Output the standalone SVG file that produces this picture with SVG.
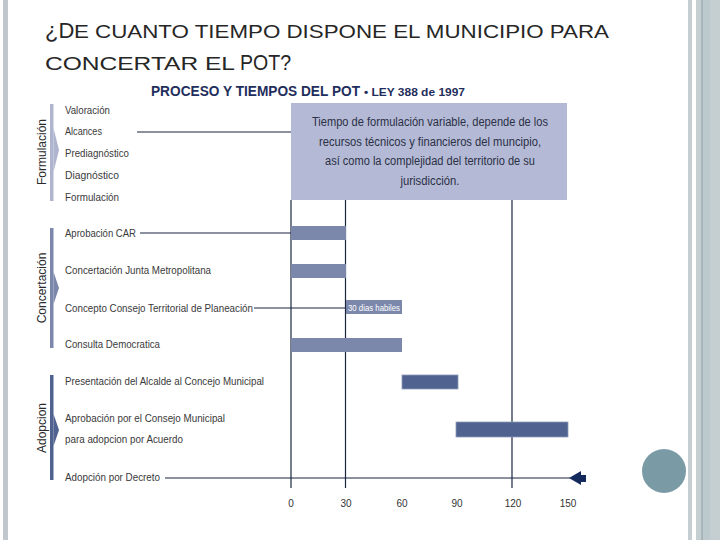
<svg xmlns="http://www.w3.org/2000/svg" width="720" height="540" viewBox="0 0 720 540">
<style>
.title{font-family:"Liberation Sans",Arial,sans-serif;fill:#262626}
.sub{font-family:"Liberation Sans Narrow","Liberation Sans",sans-serif;font-weight:bold;fill:#1f2e5c}
.lbl{font-family:"Liberation Sans Narrow","Liberation Sans",sans-serif;font-size:11px;fill:#3a3a3a}
.phase{font-family:"Liberation Sans Narrow","Liberation Sans",sans-serif;font-size:12px;fill:#2a2a2a}
.box{font-family:"Liberation Sans Narrow","Liberation Sans",sans-serif;font-size:12.5px;fill:#2b3045}
.ax{font-family:"Liberation Sans Narrow","Liberation Sans",sans-serif;font-size:10px;fill:#333;text-anchor:middle}
.grid{stroke:#1a2540;stroke-width:1.2}
.conn{stroke:#1a2540;stroke-width:1.2;fill:none}
.barC{fill:#7b87ab}
.barA{fill:#4f6290;stroke:#8f9bbb;stroke-width:0.8}
</style>
<rect width="720" height="540" fill="#ffffff"/>
<!-- frame decoration -->
<rect x="3" y="0" width="5" height="540" fill="#c0c8ce"/>
<rect x="688" y="0" width="4" height="540" fill="#c5cfd2"/>
<rect x="696" y="0" width="24" height="540" fill="#c5cfd2"/>
<rect x="703" y="0" width="7" height="540" fill="#bccacd"/>
<line x1="702" y1="0" x2="702" y2="540" stroke="#8a9aa0" stroke-width="1"/>
<circle cx="664" cy="471" r="22" fill="#7a9ba6"/>

<!-- title -->
<g id="title">
<text class="title" x="45" y="38" font-size="22">¿D</text>
<text class="title" x="74" y="38" font-size="17.5" textLength="535" lengthAdjust="spacingAndGlyphs">E CUANTO TIEMPO DISPONE EL MUNICIPIO PARA</text>
<text class="title" x="45" y="70" font-size="17.5" textLength="190" lengthAdjust="spacingAndGlyphs">CONCERTAR EL</text>
<text class="title" x="240" y="70" font-size="22" textLength="51" lengthAdjust="spacingAndGlyphs">POT?</text>
</g>
<g id="subtitle">
<text class="sub" x="151" y="96" font-size="14" textLength="209" lengthAdjust="spacingAndGlyphs">PROCESO Y TIEMPOS DEL POT</text>
<text class="sub" x="364" y="96" font-size="10.5" textLength="101" lengthAdjust="spacingAndGlyphs">• LEY 388 de 1997</text>
</g>

<!-- phases -->
<g id="phase-formulacion">
<rect x="50" y="104" width="3.5" height="97" fill="#b0b5cf"/>
<polygon points="53.5,128 59,150 53.5,172" fill="#b0b5cf"/>
<text class="phase" transform="translate(46,152) rotate(-90)" text-anchor="middle">Formulación</text>
</g>
<g id="phase-concertacion">
<rect x="50" y="228" width="3.5" height="120" fill="#7b87ab"/>
<polygon points="53.5,272 59,288 53.5,304" fill="#7b87ab"/>
<text class="phase" transform="translate(46,288) rotate(-90)" text-anchor="middle">Concertación</text>
</g>
<g id="phase-adopcion">
<rect x="50" y="375" width="3.5" height="105" fill="#4f6290"/>
<polygon points="53.5,414 59,430 53.5,446" fill="#4f6290"/>
<text class="phase" transform="translate(46,428) rotate(-90)" text-anchor="middle">Adopcion</text>
</g>

<!-- step labels -->
<g id="steps">
<text class="lbl" x="65" y="114" textLength="45" lengthAdjust="spacingAndGlyphs">Valoración</text>
<text class="lbl" x="65" y="135" textLength="37" lengthAdjust="spacingAndGlyphs">Alcances</text>
<text class="lbl" x="65" y="157" textLength="64" lengthAdjust="spacingAndGlyphs">Prediagnóstico</text>
<text class="lbl" x="65" y="179" textLength="54" lengthAdjust="spacingAndGlyphs">Diagnóstico</text>
<text class="lbl" x="65" y="201" textLength="54" lengthAdjust="spacingAndGlyphs">Formulación</text>
<text class="lbl" x="65" y="237" textLength="71" lengthAdjust="spacingAndGlyphs">Aprobación CAR</text>
<text class="lbl" x="65" y="274" textLength="146" lengthAdjust="spacingAndGlyphs">Concertación Junta Metropolitana</text>
<text class="lbl" x="65" y="312" textLength="188" lengthAdjust="spacingAndGlyphs">Concepto Consejo Territorial de Planeación</text>
<text class="lbl" x="65" y="348" textLength="95" lengthAdjust="spacingAndGlyphs">Consulta Democratica</text>
<text class="lbl" x="65" y="385" textLength="199" lengthAdjust="spacingAndGlyphs">Presentación del Alcalde al Concejo Municipal</text>
<text class="lbl" x="65" y="422" textLength="160" lengthAdjust="spacingAndGlyphs">Aprobación por el Consejo Municipal</text>
<text class="lbl" x="65" y="443" textLength="118" lengthAdjust="spacingAndGlyphs">para adopcion por Acuerdo</text>
<text class="lbl" x="65" y="481" textLength="95" lengthAdjust="spacingAndGlyphs">Adopción por Decreto</text>
</g>

<!-- info box -->
<g id="info-box">
<rect x="291" y="103" width="276" height="97" fill="#b4bad6"/>
<text class="box" x="430" y="126" text-anchor="middle" textLength="236" lengthAdjust="spacingAndGlyphs">Tiempo de formulación variable, depende de los</text>
<text class="box" x="430" y="146" text-anchor="middle" textLength="222" lengthAdjust="spacingAndGlyphs">recursos técnicos y financieros del muncipio,</text>
<text class="box" x="430" y="165" text-anchor="middle" textLength="210" lengthAdjust="spacingAndGlyphs">así como la complejidad del territorio de su</text>
<text class="box" x="430" y="185" text-anchor="middle" textLength="59" lengthAdjust="spacingAndGlyphs">jurisdicción.</text>
</g>

<!-- grid -->
<g id="grid">
<line class="grid" x1="291" y1="200" x2="291" y2="488"/>
<line class="grid" x1="345.5" y1="200" x2="345.5" y2="488"/>
<line class="grid" x1="512" y1="200" x2="512" y2="488"/>
</g>

<!-- bars -->
<g id="bars">
<rect class="barC" x="291" y="226" width="55" height="14"/>
<rect class="barC" x="291" y="264" width="55" height="14"/>
<g id="bar-30dias">
<rect class="barC" x="346" y="300" width="56" height="14"/>
<text x="374" y="310.5" text-anchor="middle" font-family="Liberation Sans Narrow,Liberation Sans,sans-serif" font-size="9" fill="#ffffff" textLength="52" lengthAdjust="spacingAndGlyphs">30 dias habiles</text>
</g>
<rect class="barC" x="291" y="338" width="111" height="14"/>
<rect class="barA" x="402" y="375" width="56" height="14"/>
<rect class="barA" x="456" y="422" width="112" height="15"/>
</g>

<!-- connectors -->
<g id="connectors">
<line class="conn" x1="137" y1="132" x2="291" y2="132"/>
<line class="conn" x1="140" y1="233" x2="291" y2="233"/>
<line class="conn" x1="254" y1="308" x2="346" y2="308"/>
<line class="conn" x1="165" y1="478" x2="570" y2="478"/>
<polygon points="569,478 581,471 581,485" fill="#152a5c"/>
<rect x="580" y="475" width="6" height="7" fill="#152a5c"/>
</g>

<!-- axis labels -->
<g id="axis">
<text class="ax" x="291" y="507">0</text>
<text class="ax" x="346" y="507">30</text>
<text class="ax" x="402" y="507">60</text>
<text class="ax" x="457" y="507">90</text>
<text class="ax" x="513" y="507">120</text>
<text class="ax" x="568" y="507">150</text>
</g>
</svg>
